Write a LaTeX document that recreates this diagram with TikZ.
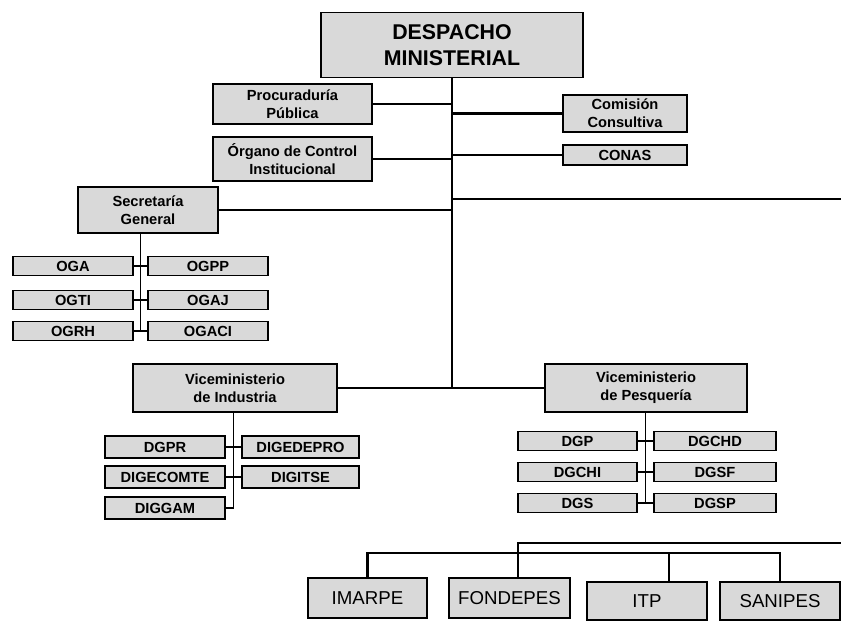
\documentclass[tikz,border=0pt]{standalone}
\usepackage{fontspec}
\setmainfont{Liberation Sans}
\usetikzlibrary{calc}
\begin{document}
\begin{tikzpicture}
    \def\dx{0.75pt}
    \def\dy{0.75pt}
    \useasboundingbox (0,0) rectangle (841*\dx,-621*\dy);

    \tikzstyle{midbox}=[draw=black,fill=black!15,line width=1.2pt,inner sep=0pt,align=center,font=\bfseries\fontsize{11}{13.5}\selectfont]
    \tikzstyle{headbox}=[midbox,font=\bfseries\fontsize{16}{19}\selectfont]
    \tikzstyle{smallbox}=[midbox,minimum width=120*\dx,minimum height=19*\dy]
    \tikzstyle{basebox}=[midbox,font=\fontsize{14}{16}\selectfont,minimum width=120*\dx,minimum height=40*\dy]

    \node[headbox,minimum width=262*\dx,minimum height=65*\dy] (despacho) at (452*\dx,-45*\dy) {DESPACHO\\MINISTERIAL};
    \node[midbox,minimum width=159*\dx,minimum height=40*\dy] (proc) at (292.5*\dx,-104*\dy) {Procuraduría\\Pública};
    \node[midbox,minimum width=159*\dx,minimum height=44*\dy] (organo) at (292.5*\dx,-159*\dy) {Órgano de Control\\Institucional};
    \node[midbox,minimum width=124*\dx,minimum height=37*\dy] (comision) at (625*\dx,-113.5*\dy) {Comisión\\Consultiva};
    \node[midbox,minimum width=124*\dx,minimum height=20*\dy] (conas) at (625*\dx,-155*\dy) {CONAS};
    \node[midbox,minimum width=140*\dx,minimum height=46*\dy] (secretaria) at (148*\dx,-210*\dy) {Secretaría\\General};

    \node[smallbox] (oga) at (73*\dx,-266*\dy) {OGA};
    \node[smallbox] (ogpp) at (208*\dx,-266*\dy) {OGPP};
    \node[smallbox] (ogti) at (73*\dx,-300*\dy) {OGTI};
    \node[smallbox] (ogaj) at (208*\dx,-300*\dy) {OGAJ};
    \node[smallbox] (ogrh) at (73*\dx,-331*\dy) {OGRH};
    \node[smallbox] (ogaci) at (208*\dx,-331*\dy) {OGACI};

    \node[midbox,minimum width=204*\dx,minimum height=48*\dy] (vind) at (235*\dx,-388*\dy) {Viceministerio\\de Industria};
    \node[midbox,minimum width=202*\dx,minimum height=48*\dy] (vpes) at (646*\dx,-388*\dy) {Viceministerio\\de Pesquería};

    \node[smallbox,minimum height=22*\dy] (dgpr) at (165*\dx,-447*\dy) {DGPR};
    \node[smallbox,minimum width=117*\dx,minimum height=22*\dy] (digedepro) at (300.5*\dx,-447*\dy) {DIGEDEPRO};
    \node[smallbox,minimum height=22*\dy] (digecomte) at (165*\dx,-477*\dy) {DIGECOMTE};
    \node[smallbox,minimum width=117*\dx,minimum height=22*\dy] (digitse) at (300.5*\dx,-477*\dy) {DIGITSE};
    \node[smallbox,minimum height=22*\dy] (diggam) at (165*\dx,-508*\dy) {DIGGAM};

    \node[smallbox,minimum width=119*\dx] (dgp) at (577.5*\dx,-441*\dy) {DGP};
    \node[smallbox,minimum width=122*\dx] (dgchd) at (715*\dx,-441*\dy) {DGCHD};
    \node[smallbox,minimum width=119*\dx] (dgchi) at (577.5*\dx,-472*\dy) {DGCHI};
    \node[smallbox,minimum width=122*\dx] (dgsf) at (715*\dx,-472*\dy) {DGSF};
    \node[smallbox,minimum width=119*\dx] (dgs) at (577.5*\dx,-503*\dy) {DGS};
    \node[smallbox,minimum width=122*\dx] (dgsp) at (715*\dx,-503*\dy) {DGSP};

    \node[basebox,minimum width=119*\dx] (imarpe) at (367.5*\dx,-598*\dy) {IMARPE};
    \node[basebox,minimum width=121*\dx] (fondepes) at (509.5*\dx,-598*\dy) {FONDEPES};
    \node[basebox,minimum height=38*\dy] (itp) at (647*\dx,-601*\dy) {ITP};
    \node[basebox,minimum height=38*\dy] (sanipes) at (780*\dx,-601*\dy) {SANIPES};

    \tikzstyle{fwd} = [draw=black, line width=1.9pt]
    \tikzstyle{sub} = [draw=black, line width=1.4pt]

          \draw [fwd] (despacho) -- (despacho |- vind.east);
          \draw [fwd] (proc) -- (proc -| despacho);
          \draw [fwd] (organo) -- (organo -| despacho);
          \draw [fwd] (comision) -- (comision -| despacho);
          \draw [fwd] (conas) -- (conas -| despacho);
          \draw [fwd] (secretaria) -- (secretaria -| despacho);
          \coordinate (rightend) at (841*\dx,-199*\dy);
          \draw [fwd] (despacho |- rightend) -- (rightend);
          \draw [fwd] (vind) -- (vpes);

          % secretaria
          \coordinate (sgstem) at ($(oga.east)!.5!(ogpp.west)$);
          \draw [sub] (sgstem |- secretaria.south) -- (sgstem |- ogrh.east);
          \draw [sub] (oga) -- (ogpp);
          \draw [sub] (ogti) -- (ogaj);
          \draw [sub] (ogrh) -- (ogaci);

          % industria
          \coordinate (vistem) at ($(dgpr.east)!.5!(digedepro.west)$);
          \draw [sub] (vistem |- vind.south) -- (vistem |- diggam.east);
          \draw [sub] (dgpr) -- (digedepro);
          \draw [sub] (digecomte) -- (digitse);
          \draw [sub] (diggam) -- (vistem |- diggam.east);

          % pesqueria
          \coordinate (vpstem) at ($(dgp.east)!.5!(dgchd.west)$);
          \draw [sub] (vpstem |- vpes.south) -- (vpstem |- dgs.east);
          \draw [sub] (dgp) -- (dgchd);
          \draw [sub] (dgchi) -- (dgsf);
          \draw [sub] (dgs) -- (dgsp);

          % organismos
          \coordinate (basetop) at (841*\dx,-543*\dy);
          \coordinate (basebar) at (0,-553*\dy);
          \draw [fwd] ([xshift=8.5*\dx]fondepes.north) |- (basetop);
          \draw [fwd] (imarpe.north) |- (basebar -| sanipes.north) -- (sanipes.north);
          \draw [fwd] ([xshift=22*\dx]itp.north) -- ([xshift=22*\dx]itp.north |- basebar);

  \end{tikzpicture}
\end{document}
